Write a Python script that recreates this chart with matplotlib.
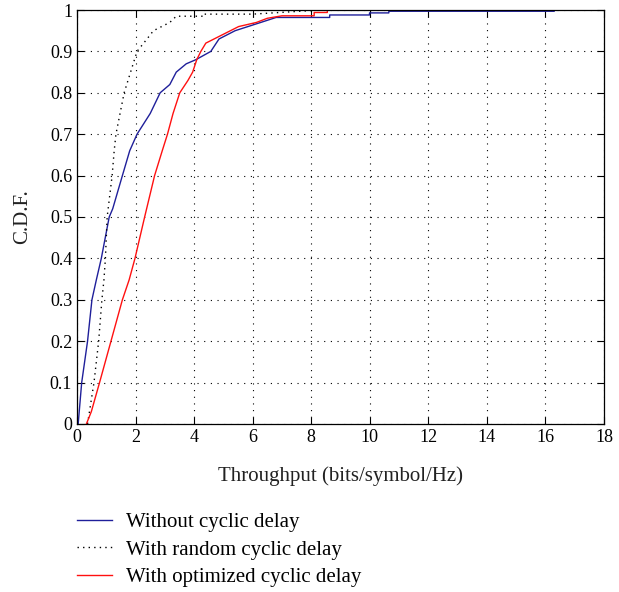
import matplotlib
matplotlib.use('Agg')
import matplotlib.pyplot as plt
import numpy as np

plt.rcParams['font.family'] = ['Liberation Serif', 'DejaVu Serif']

cdf_blue = [0.0, 0.10, 0.20, 0.30, 0.348, 0.40, 0.50, 0.52, 0.60, 0.66, 0.70, 0.75, 0.80,
            0.82, 0.85, 0.87, 0.88, 0.90, 0.93, 0.95, 0.968, 0.982, 0.982, 0.988, 0.988,
            0.993, 0.993, 0.997, 0.997, 1.0]
x_blue = [0.04, 0.16, 0.36, 0.51, 0.66, 0.83, 1.10, 1.22, 1.55, 1.80, 2.05, 2.50, 2.84,
          3.17, 3.39, 3.73, 4.06, 4.57, 4.85, 5.40, 6.19, 6.80, 8.63, 8.63, 9.99,
          9.99, 10.65, 10.65, 16.3, 16.3]

cdf_rand = [0.0, 0.05, 0.10, 0.20, 0.30, 0.348, 0.40, 0.50, 0.60, 0.66, 0.70, 0.80, 0.85,
            0.90, 0.93, 0.95, 0.97, 0.985, 0.985, 0.99, 0.99, 1.0]
x_rand = [0.36, 0.47, 0.58, 0.74, 0.85, 0.92, 0.97, 1.03, 1.20, 1.27, 1.33, 1.61, 1.83,
          2.05, 2.39, 2.61, 3.17, 3.39, 4.3, 4.3, 6.0, 8.3]

cdf_opt = [0.0, 0.03, 0.10, 0.20, 0.30, 0.348, 0.40, 0.50, 0.60, 0.662, 0.70, 0.75, 0.80,
           0.83, 0.85, 0.88, 0.90, 0.92, 0.94, 0.96, 0.97, 0.98, 0.986, 0.986, 0.994, 0.994,
           1.0, 1.0]
x_opt = [0.32, 0.49, 0.77, 1.16, 1.55, 1.78, 1.98, 2.31, 2.65, 2.92, 3.09, 3.28, 3.51,
         3.79, 3.95, 4.09, 4.23, 4.40, 4.96, 5.52, 6.13, 6.50, 7.0, 8.1, 8.1, 8.55,
         8.55, 8.94]

labels = ['Without cyclic delay', 'With random cyclic delay', 'With optimized cyclic delay']

fig = plt.figure(figsize=(6.19, 5.92), dpi=100)
ax = fig.add_axes([0.1244, 0.2838, 0.8514, 0.6993])

l1, = ax.plot(x_blue, cdf_blue, color='#1f1f9a', lw=1.0)
l2, = ax.plot(x_rand, cdf_rand, color='black', lw=1.0, linestyle=(0, (1, 3)))
l3, = ax.plot(x_opt, cdf_opt, color='#ff1010', lw=1.0)

ax.set_xlim(0, 18)
ax.set_ylim(0, 1)
ax.set_xticks(np.arange(0, 19, 2))
ax.set_yticks(np.arange(0, 1.01, 0.1))
ax.set_yticklabels(['0', '0.1', '0.2', '0.3', '0.4', '0.5', '0.6', '0.7', '0.8', '0.9', '1'])
ax.grid(True, color='black', linestyle=(0, (1, 5)), lw=0.8)
ax.tick_params(direction='in', top=True, right=True, labelsize=13, length=5)
for s in ax.spines.values():
    s.set_linewidth(0.9)
ax.set_xlabel('Throughput (bits/symbol/Hz)', fontsize=15, labelpad=15, color='#222222')
ax.set_ylabel('C.D.F.', fontsize=15, labelpad=13, color='#222222')

fig.legend([l1, l2, l3], labels, loc='upper left', bbox_to_anchor=(0.124, 0.134),
           frameon=False, fontsize=15, handlelength=1.7, handletextpad=0.65,
           labelspacing=0.37, borderaxespad=0, borderpad=0)

fig.savefig('out.png', dpi=100)
